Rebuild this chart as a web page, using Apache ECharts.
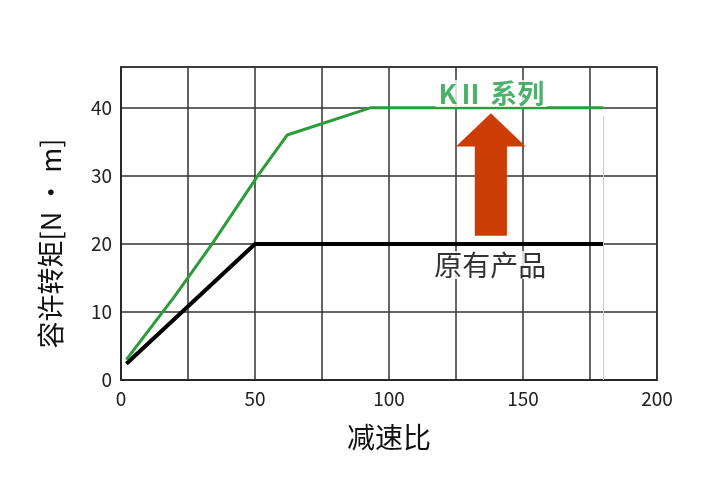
<!DOCTYPE html>
<html><head><meta charset="utf-8">
<script src="https://cdn.jsdelivr.net/npm/echarts@6/dist/echarts.min.js"></script>
<style>html,body{margin:0;padding:0;background:#fff}#c{width:704px;height:502px}</style>
</head><body><div id="c"></div>
<script>
const xTicks = [0, 50, 100, 150, 200];
const yTicks = [0, 10, 20, 30, 40];
const k2X = [2, 20, 34, 51, 62, 93, 180];
const k2Y = [3, 12.3, 20, 30, 36, 40, 40];
const oldX = [2, 50, 180];
const oldY = [2.4, 20, 20];
const arrowX = [138, 151, 144, 144, 132, 132, 125];
const arrowY = [39.2, 34.3, 34.3, 21.2, 21.2, 34.3, 34.3];
const labelK2 = 'KⅡ 系列';
const labelOld = '原有产品';
const labelPos = [[138.2, 42.1], [137.8, 16.9]];

const font = '"Noto Sans CJK SC", "Noto Sans", sans-serif';
const chart = echarts.init(document.getElementById('c'));
chart.setOption({
  backgroundColor: '#fff',
  animation: false,
  grid: {left: 121, right: 47, top: 67, bottom: 122, show: true, borderColor: '#222', borderWidth: 1.5},
  xAxis: {
    type: 'value', min: 0, max: 200, interval: 25,
    name: '减速比', nameLocation: 'middle', nameGap: 43,
    nameTextStyle: {fontSize: 28, color: '#111', fontFamily: font},
    axisLine: {show: true, lineStyle: {color: '#222', width: 1.5}},
    axisTick: {show: false},
    axisLabel: {fontSize: 19, color: '#222', fontFamily: font, margin: 9,
      formatter: v => xTicks.includes(v) ? String(v) : ''},
    splitLine: {show: true, lineStyle: {color: '#333', width: 1.5}}
  },
  yAxis: {
    type: 'value', min: 0, max: 46, interval: 10,
    name: '容许转矩[N · m]', nameLocation: 'middle', nameGap: 57, nameRotate: 90,
    nameTextStyle: {fontSize: 27, color: '#111', fontFamily: font, padding: [0, 40, 0, 0]},
    axisLine: {show: true, lineStyle: {color: '#222', width: 1.5}},
    axisTick: {show: false},
    axisLabel: {fontSize: 19, color: '#222', fontFamily: font, margin: 9,
      formatter: v => yTicks.includes(v) ? String(v) : ''},
    splitLine: {show: true, lineStyle: {color: '#333', width: 1.5}}
  },
  series: [
    {
      type: 'line', data: oldX.map((x, i) => [x, oldY[i]]),
      symbol: 'none', lineStyle: {color: '#000', width: 4}, z: 3,
      markLine: {silent: true, symbol: 'none', label: {show: false},
        lineStyle: {color: '#ccc', width: 1, type: 'solid'},
        data: [[{coord: [180, 0]}, {coord: [180, 38.8]}]]}
    },
    {
      type: 'line', data: k2X.map((x, i) => [x, k2Y[i]]),
      symbol: 'none', lineStyle: {color: '#2a9d3a', width: 3}, z: 4
    },
    {
      type: 'custom', data: [[arrowX[0], arrowY[0]]], z: 5,
      renderItem: (params, api) => ({
        type: 'polygon',
        shape: {points: arrowX.map((x, i) => api.coord([x, arrowY[i]]))},
        style: {fill: '#cc3d06'}
      })
    },
    {
      type: 'scatter', symbolSize: 0, z: 6,
      data: [
        {value: labelPos[0], label: {formatter: labelK2, color: '#1e9e48', fontWeight: 'bold', fontSize: 27}},
        {value: labelPos[1], label: {formatter: labelOld, color: '#000', fontSize: 28}}
      ],
      label: {show: true, position: 'inside', fontFamily: font, backgroundColor: '#fff', padding: [0, 3]}
    }
  ]
});
</script></body></html>
